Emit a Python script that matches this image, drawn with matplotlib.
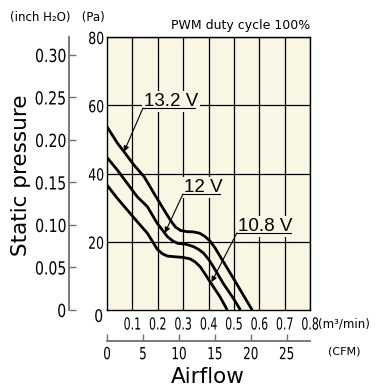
import matplotlib.pyplot as plt
from matplotlib.patheffects import AbstractPathEffect
from matplotlib.transforms import Affine2D

# airflow (m3/min) vs static pressure (Pa)
q_132 = [0, 0.041, 0.067, 0.106, 0.146, 0.185, 0.225, 0.250, 0.270, 0.290, 0.315, 0.340, 0.365, 0.385, 0.405, 0.425, 0.458, 0.498, 0.537, 0.572]
p_132 = [53.7, 48.9, 46.4, 42.5, 39.1, 34.2, 29.3, 26.3, 24.3, 23.3, 22.95, 22.9, 22.5, 21.6, 20.3, 18.3, 14.2, 9.3, 4.4, 0]
q_120 = [0, 0.041, 0.080, 0.119, 0.159, 0.198, 0.238, 0.260, 0.280, 0.310, 0.340, 0.360, 0.380, 0.400, 0.419, 0.458, 0.498, 0.526]
p_120 = [44.7, 41.0, 37.1, 33.2, 30.3, 25.4, 21.5, 20.2, 19.5, 19.3, 18.6, 17.8, 16.7, 14.9, 12.7, 7.8, 3.4, 0]
q_108 = [0, 0.041, 0.080, 0.119, 0.159, 0.180, 0.198, 0.218, 0.238, 0.268, 0.300, 0.327, 0.347, 0.367, 0.386, 0.406, 0.445, 0.474]
p_108 = [36.6, 32.7, 29.3, 25.9, 22.5, 20.0, 17.8, 16.5, 15.8, 15.6, 15.4, 15.0, 14.1, 12.7, 10.6, 8.3, 3.9, 0]

curve_labels = ['13.2 V', '12 V', '10.8 V']
# label anchor (left end of underline), underline end, arrow tip
label_xy = [(0.142, 59.2), (0.2995, 34.0), (0.512, 22.6)]
label_end = [0.347, 0.445, 0.725]
arrow_tip = [(0.067, 46.4), (0.228, 22.6), (0.412, 8.2)]

q_ticks = [0.1, 0.2, 0.3, 0.4, 0.5, 0.6, 0.7, 0.8]
pa_ticks = [20, 40, 60, 80]
inch_ticks = [0, 0.05, 0.10, 0.15, 0.20, 0.25, 0.30]
cfm_ticks = [0, 5, 10, 15, 20, 25]

PA_PER_INCH = 249.09
M3_PER_CFM = 0.0283168

bg = '#faf6e4'
gray = '#707070'


class Squeeze(AbstractPathEffect):
    """Draw text horizontally squeezed, to fake a condensed face."""

    def __init__(self, sx=0.75, anchor='center'):
        super().__init__()
        self.sx = sx
        self.anchor = anchor

    def draw_path(self, renderer, gc, tpath, affine, rgbFace=None):
        ext = tpath.get_extents()
        cx = ext.x1 if self.anchor == 'right' else (ext.x0 + ext.x1) / 2
        sq = Affine2D().translate(-cx, 0).scale(self.sx, 1).translate(cx, 0)
        renderer.draw_path(gc, tpath, sq + affine, rgbFace)


fig = plt.figure(figsize=(3.78, 3.89), dpi=100)
ax = fig.add_axes([107/378, 1 - 310/389, 203/378, 273/389])
ax.set_facecolor(bg)
ax.set_xlim(0, 0.8)
ax.set_ylim(0, 80)

for q in q_ticks:
    ax.axvline(q, color='k', lw=0.9, zorder=1)
for p in pa_ticks:
    ax.axhline(p, color='k', lw=0.9, zorder=1)
for s in ax.spines.values():
    s.set_linewidth(1.0)

for q, p in [(q_132, p_132), (q_120, p_120), (q_108, p_108)]:
    ax.plot(q, p, color='k', lw=2.0, zorder=5, solid_capstyle='butt', solid_joinstyle='round')

for lab, (x0, y0), x1, tip in zip(curve_labels, label_xy, label_end, arrow_tip):
    ax.text(x0 + 0.004, y0 + 0.5, lab, ha='left', va='baseline', fontsize=13.5,
            family='Liberation Sans', zorder=3,
            bbox=dict(boxstyle='square,pad=0.1', fc=bg, ec='none'))
    ax.plot([x0, x1], [y0, y0], color='k', lw=0.8, zorder=4)
    ax.annotate('', xy=tip, xytext=(x0, y0), zorder=6,
                arrowprops=dict(arrowstyle='-|>', lw=0.8, color='k',
                                mutation_scale=8, shrinkA=0, shrinkB=0))

ax.set_xticks(q_ticks)
ax.set_xticklabels([f'{q:.1f}' for q in q_ticks], fontsize=12,
                   path_effects=[Squeeze(0.66)])
ax.set_yticks(pa_ticks)
ax.set_yticklabels([str(p) for p in pa_ticks], fontsize=12,
                   path_effects=[Squeeze(0.75, 'right')])
ax.tick_params(axis='x', length=0, pad=4)
ax.tick_params(axis='y', length=0, pad=2)
ax.annotate('0', xy=(0, 0), xytext=(-6, -5), textcoords='offset points',
            ha='center', va='center', fontsize=12.5, path_effects=[Squeeze(0.8)])

# inch H2O axis on the left
ax_in = ax.secondary_yaxis(-38/203, functions=(lambda p: p / PA_PER_INCH, lambda h: h * PA_PER_INCH))
ax_in.set_yticks(inch_ticks)
ax_in.set_yticklabels(['0'] + [f'{v:.2f}' for v in inch_ticks[1:]], fontsize=13,
                      path_effects=[Squeeze(0.78, 'right')])
ax_in.tick_params(direction='in', length=5, width=1.0, color=gray, pad=2)
ax_in.spines['left'].set_color(gray)
ax_in.spines['left'].set_linewidth(1.3)

# CFM axis below
ax_cfm = ax.secondary_xaxis(-31/273, functions=(lambda q: q / M3_PER_CFM, lambda c: c * M3_PER_CFM))
ax_cfm.set_xticks(cfm_ticks)
ax_cfm.set_xticklabels([str(c) for c in cfm_ticks], fontsize=12,
                       path_effects=[Squeeze(0.72)])
ax_cfm.tick_params(direction='in', length=5, width=1.0, color=gray, pad=3)
ax_cfm.spines['bottom'].set_color(gray)
ax_cfm.spines['bottom'].set_linewidth(1.3)

fig.text(10/378, 1 - 17/389, '(inch H\u2082O)   (Pa)', fontsize=8.5, va='center', ha='left')
fig.text(310/378, 1 - 25/389, 'PWM duty cycle 100%', fontsize=9, va='center', ha='right')
fig.text(318/378, 1 - 324/389, '(m\u00b3/min)', fontsize=8.5, va='center', ha='left')
fig.text(328/378, 1 - 352/389, '(CFM)', fontsize=8, va='center', ha='left')
fig.text(208/378, 1 - 377/389, 'Airflow', fontsize=15.5, va='center', ha='center')
fig.text(21/378, 1 - 175/389, 'Static pressure', fontsize=15.5, va='center', ha='center',
         rotation=90)

fig.savefig('out.png', dpi=100)
